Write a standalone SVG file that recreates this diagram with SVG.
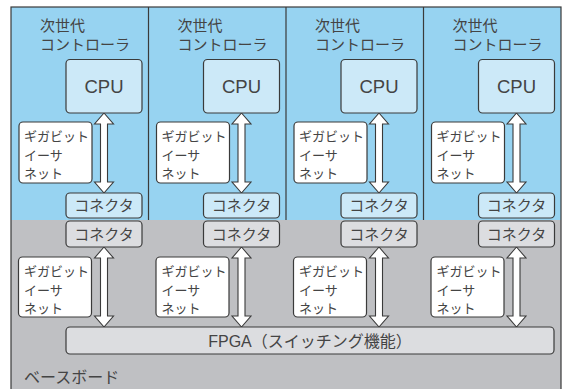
<svg xmlns="http://www.w3.org/2000/svg" width="563" height="389" viewBox="0 0 563 389">
<style>
.jp{font-family:"Noto Sans CJK JP","Noto Sans",sans-serif;fill:#444444}
.en{font-family:"Liberation Sans",Arial,sans-serif;fill:#444444}
.t{font-size:15px}
.g{font-size:13px}
.k{font-size:15px;text-anchor:middle}
.box{stroke:#3a3a3a;stroke-width:1.2}
.cb{fill:#cce9f8}
.cg{fill:#dcdde0}
.lbl{fill:#ffffff}
.arr{fill:#ffffff;stroke:#3a3a3a;stroke-width:1.1}
</style>
<defs>
<path id="dar" d="M0,0 L9.5,11 L3.5,11 L3.5,69 L9.5,69 L0,80 L-9.5,69 L-3.5,69 L-3.5,11 L-9.5,11 Z"/>
</defs>
<rect x="0" y="0" width="563" height="389" fill="#ffffff"/>
<rect x="11" y="7" width="550" height="213" fill="#97d3f1"/>
<rect x="11" y="220" width="550" height="175" fill="#bfc0c3"/>
<rect x="11" y="7" width="550" height="400" fill="none" stroke="#3a3a3a" stroke-width="1.2"/>
<g id="dividers" stroke="#3a3a3a" stroke-width="1.2">
<line x1="148.5" y1="7" x2="148.5" y2="220"/>
<line x1="286" y1="7" x2="286" y2="220"/>
<line x1="423.5" y1="7" x2="423.5" y2="220"/>
</g>
<g id="connectors">
<use href="#dar" class="arr" x="104" y="113"/>
<use href="#dar" class="arr" x="241.5" y="113"/>
<use href="#dar" class="arr" x="379" y="113"/>
<use href="#dar" class="arr" x="516.5" y="113"/>
<use href="#dar" class="arr" x="104" y="247"/>
<use href="#dar" class="arr" x="241.5" y="247"/>
<use href="#dar" class="arr" x="379" y="247"/>
<use href="#dar" class="arr" x="516.5" y="247"/>
</g>
<g id="ctrl1">
<text class="jp t" x="40" y="31">次世代</text>
<text class="jp t" x="40" y="50">コントローラ</text>
<rect class="box cb" x="66" y="59.5" width="76" height="53.5" rx="4"/>
<text class="en" x="104" y="93" font-size="18.5" text-anchor="middle">CPU</text>
<rect class="box lbl" x="19" y="122" width="73" height="61" rx="4"/>
<text class="jp g" x="24" y="141">ギガビット</text>
<text class="jp g" x="24" y="160">イーサ</text>
<text class="jp g" x="24" y="178">ネット</text>
<rect class="box cb" x="66" y="193" width="76" height="25" rx="4"/>
<text class="jp k" x="104" y="211">コネクタ</text>
</g>
<g id="ctrl2">
<text class="jp t" x="177.5" y="31">次世代</text>
<text class="jp t" x="177.5" y="50">コントローラ</text>
<rect class="box cb" x="203.5" y="59.5" width="76" height="53.5" rx="4"/>
<text class="en" x="241.5" y="93" font-size="18.5" text-anchor="middle">CPU</text>
<rect class="box lbl" x="156.5" y="122" width="73" height="61" rx="4"/>
<text class="jp g" x="161.5" y="141">ギガビット</text>
<text class="jp g" x="161.5" y="160">イーサ</text>
<text class="jp g" x="161.5" y="178">ネット</text>
<rect class="box cb" x="203.5" y="193" width="76" height="25" rx="4"/>
<text class="jp k" x="241.5" y="211">コネクタ</text>
</g>
<g id="ctrl3">
<text class="jp t" x="315" y="31">次世代</text>
<text class="jp t" x="315" y="50">コントローラ</text>
<rect class="box cb" x="341" y="59.5" width="76" height="53.5" rx="4"/>
<text class="en" x="379" y="93" font-size="18.5" text-anchor="middle">CPU</text>
<rect class="box lbl" x="294" y="122" width="73" height="61" rx="4"/>
<text class="jp g" x="299" y="141">ギガビット</text>
<text class="jp g" x="299" y="160">イーサ</text>
<text class="jp g" x="299" y="178">ネット</text>
<rect class="box cb" x="341" y="193" width="76" height="25" rx="4"/>
<text class="jp k" x="379" y="211">コネクタ</text>
</g>
<g id="ctrl4">
<text class="jp t" x="452.5" y="31">次世代</text>
<text class="jp t" x="452.5" y="50">コントローラ</text>
<rect class="box cb" x="478.5" y="59.5" width="76" height="53.5" rx="4"/>
<text class="en" x="516.5" y="93" font-size="18.5" text-anchor="middle">CPU</text>
<rect class="box lbl" x="431.5" y="122" width="73" height="61" rx="4"/>
<text class="jp g" x="436.5" y="141">ギガビット</text>
<text class="jp g" x="436.5" y="160">イーサ</text>
<text class="jp g" x="436.5" y="178">ネット</text>
<rect class="box cb" x="478.5" y="193" width="76" height="25" rx="4"/>
<text class="jp k" x="516.5" y="211">コネクタ</text>
</g>
<g id="base">
<rect class="box cg" x="66" y="221" width="76" height="26" rx="4"/>
<text class="jp k" x="104" y="239.5">コネクタ</text>
<rect class="box cg" x="203.5" y="221" width="76" height="26" rx="4"/>
<text class="jp k" x="241.5" y="239.5">コネクタ</text>
<rect class="box cg" x="341" y="221" width="76" height="26" rx="4"/>
<text class="jp k" x="379" y="239.5">コネクタ</text>
<rect class="box cg" x="478.5" y="221" width="76" height="26" rx="4"/>
<text class="jp k" x="516.5" y="239.5">コネクタ</text>
<rect class="box lbl" x="18.5" y="257" width="73" height="60" rx="4"/>
<text class="jp g" x="24" y="276">ギガビット</text>
<text class="jp g" x="24" y="295">イーサ</text>
<text class="jp g" x="24" y="313">ネット</text>
<rect class="box lbl" x="156" y="257" width="73" height="60" rx="4"/>
<text class="jp g" x="161.5" y="276">ギガビット</text>
<text class="jp g" x="161.5" y="295">イーサ</text>
<text class="jp g" x="161.5" y="313">ネット</text>
<rect class="box lbl" x="293.5" y="257" width="73" height="60" rx="4"/>
<text class="jp g" x="299" y="276">ギガビット</text>
<text class="jp g" x="299" y="295">イーサ</text>
<text class="jp g" x="299" y="313">ネット</text>
<rect class="box lbl" x="431" y="257" width="73" height="60" rx="4"/>
<text class="jp g" x="436.5" y="276">ギガビット</text>
<text class="jp g" x="436.5" y="295">イーサ</text>
<text class="jp g" x="436.5" y="313">ネット</text>
</g>
<g id="fpga">
<rect class="box cg" x="66" y="327" width="488" height="27" rx="4"/>
<text x="310" y="347" font-size="16" text-anchor="middle" class="jp"><tspan class="en">FPGA</tspan>（スイッチング機能）</text>
</g>
<g id="baseboard-label">
<text class="jp" x="24" y="383" font-size="16">ベースボード</text>
</g>
</svg>
